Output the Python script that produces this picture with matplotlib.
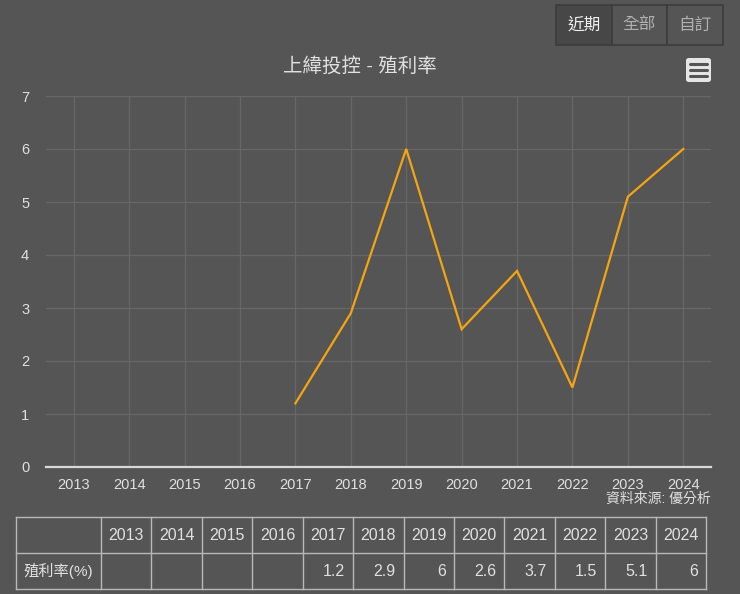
import matplotlib
matplotlib.use("Agg")
import matplotlib.pyplot as plt
from matplotlib.patches import Rectangle, FancyBboxPatch

plt.rcParams['font.family'] = ['Liberation Sans', 'Noto Sans CJK TC', 'DejaVu Sans']

# ───────── data ─────────
years = ["2013", "2014", "2015", "2016", "2017", "2018",
         "2019", "2020", "2021", "2022", "2023", "2024"]
yield_pct = [None, None, None, None, 1.2, 2.9, 6, 2.6, 3.7, 1.5, 5.1, 6]
y_ticks = [0, 1, 2, 3, 4, 5, 6, 7]
title = "上緯投控 - 殖利率"
row_label = "殖利率(%)"
source = "資料來源: 優分析"
buttons = ["近期", "全部", "自訂"]

BG = "#555555"
TXT = "#e0e0e0"
GRID = "#676767"
LINE = "#f5a50f"

W, H = 740, 594
fig = plt.figure(figsize=(W / 100, H / 100), dpi=100, facecolor=BG)

def fx(px):  # pixel -> figure fraction
    return px / W

def fy(py):
    return 1 - py / H

# ───────── line chart ─────────
ax = fig.add_axes([fx(46), fy(467), fx(711) - fx(46), fy(96) - fy(467)])
ax.set_facecolor(BG)
xs = [i for i, v in enumerate(yield_pct) if v is not None]
vs = [v for v in yield_pct if v is not None]
ax.plot(xs, vs, color=LINE, lw=1.6, solid_joinstyle="miter")
ax.set_xlim(-0.5, len(years) - 0.5)
ax.set_ylim(0, 7)
ax.set_xticks(range(len(years)))
ax.set_xticklabels(years)
ax.set_yticks(y_ticks)
ax.grid(True, color=GRID, lw=0.9)
ax.set_axisbelow(True)
for s in ["top", "right", "left"]:
    ax.spines[s].set_visible(False)
ax.spines["bottom"].set_color("#d8d8d8")
ax.spines["bottom"].set_linewidth(1.6)
ax.tick_params(axis="both", length=0, colors=TXT, labelsize=10.5)
ax.tick_params(axis="x", pad=8)
ax.tick_params(axis="y", pad=15)
for lbl in ax.get_yticklabels():
    lbl.set_horizontalalignment("center")

fig.text(fx(360), fy(66), title, color=TXT, fontsize=14, ha="center", va="center")
fig.text(fx(711), fy(499), source, color=TXT, fontsize=10, ha="right", va="center")

# ───────── range buttons ─────────
bx0, bw, by0, bh = 556, 55.5, 5, 40
for i, b in enumerate(buttons):
    active = i == 0
    fig.patches.append(Rectangle((fx(bx0 + i * bw), fy(by0 + bh)), fx(bw), fy(by0) - fy(by0 + bh),
                                 transform=fig.transFigure, facecolor="#474747" if active else BG,
                                 edgecolor="#3c3c3c", lw=1.2))
    fig.text(fx(bx0 + i * bw + bw / 2), fy(by0 + bh / 2), b, color="#f0f0f0" if active else "#b0b0b0",
             fontsize=12, ha="center", va="center")

# ───────── menu icon ─────────
fig.patches.append(FancyBboxPatch((fx(686), fy(82)), fx(25), fy(58) - fy(82),
                                  boxstyle="round,pad=0,rounding_size=0.004",
                                  transform=fig.transFigure, facecolor="#e6e6e6", edgecolor="none"))
for k in range(3):
    yy = fy(64 + k * 6)
    fig.add_artist(plt.Line2D([fx(690), fx(707)], [yy, yy], transform=fig.transFigure,
                              color="#555555", lw=2.2, solid_capstyle="round"))

# ───────── data table ─────────
tx0, tx1, lab_w = 16, 706, 85
ty = [517, 553, 589]
col_w = (tx1 - tx0 - lab_w) / len(years)
edges = [tx0, tx0 + lab_w] + [tx0 + lab_w + col_w * (i + 1) for i in range(len(years))]
tcol = "#b8b8b8"
for yy in ty:
    fig.add_artist(plt.Line2D([fx(tx0), fx(tx1)], [fy(yy), fy(yy)], transform=fig.transFigure,
                              color=tcol, lw=1))
for xx in edges:
    fig.add_artist(plt.Line2D([fx(xx), fx(xx)], [fy(ty[0]), fy(ty[-1])], transform=fig.transFigure,
                              color=tcol, lw=1))
fig.text(fx(tx0 + 7), fy((ty[1] + ty[2]) / 2), row_label, color=TXT, fontsize=11, ha="left", va="center")
for i, (yr, v) in enumerate(zip(years, yield_pct)):
    left = edges[i + 1]
    fig.text(fx(left + col_w / 2), fy((ty[0] + ty[1]) / 2), yr, color=TXT, fontsize=11.5,
             ha="center", va="center")
    if v is not None:
        fig.text(fx(left + col_w - 8), fy((ty[1] + ty[2]) / 2), f"{v:g}", color=TXT, fontsize=11.5,
                 ha="right", va="center")

fig.savefig("out.png", dpi=100, facecolor=BG)
